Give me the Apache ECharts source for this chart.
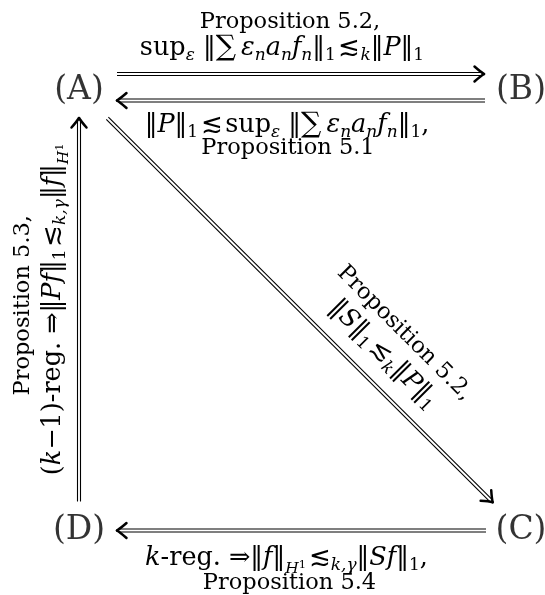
<!DOCTYPE html>
<html><head><meta charset="utf-8">
<script src="https://cdn.jsdelivr.net/npm/echarts@6/dist/echarts.min.js"></script>
<style>html,body{margin:0;padding:0;background:#fff}#c{width:545px;height:595px}</style>
</head><body><div id="c"></div>
<script>
// ---- data ----
const nodeNames = ['(A)', '(B)', '(C)', '(D)'];
const nodeCol = [0, 1, 1, 0];
const nodeRow = [0, 0, 1, 1];
const edgeFrom = [0, 1, 0, 2, 3];
const edgeTo = [1, 0, 2, 3, 0];
const edgeLabelFirst = [
  '{p|Proposition 5.2,}',
  '{r|‖}{i|P}{r|‖}{s1|1}{r|\u200A≲\u200Asup}{s|ε}{r| ‖}{sum|∑}{i|\u2009ε}{s|n}{i|a}{s|n}{i|f}{s|n}{r|‖}{s1|1}{r|,}',
  '{p|Proposition 5.2,}',
  '{i|k}{r|-reg. ⇒‖}{i|f}{r|‖}{sh|H}{sp|1}{r|\u200A≲}{s|k,γ}{r|‖}{i|Sf}{r|‖}{s1|1}{r|,}',
  '{p|Proposition 5.3,}'
];
const edgeLabelSecond = [
  '{r|sup}{s|ε}{r| ‖}{sum|∑}{i|\u2009ε}{s|n}{i|a}{s|n}{i|f}{s|n}{r|‖}{s1|1}{r|\u200A≲}{s|k}{r|‖}{i|P}{r|‖}{s1|1}',
  '{p|Proposition 5.1}',
  '{r|‖}{i|S}{r|‖}{s1|1}{r|\u200A≲}{s|k}{r|‖}{i|P}{r|‖}{s1|1}',
  '{p|Proposition 5.4}',
  '{r|(}{i|k}{r|−1)-reg. ⇒‖}{i|Pf}{r|‖}{s1|1}{r|\u200A≲}{s|k,γ}{r|‖}{i|f}{r|‖}{sh|H}{sp|1}'
];

// ---- layout / style ----
const edgeOffset = [[0, -16], [0, 10.5], [0, 0], [0, 0], [0, 0]];
const edgeGap = [[38, 37], [36, 38], [40, 40], [35, 38], [29, 28]];
const labelOffset = [
  [[-10, -68], [-18, -42]],
  [[-13, 35], [-12, 58]],
  [[104.5, 23], [83.5, 44]],
  [[-13.5, 28], [-10.5, 52.5]],
  [[-56, -5], [-26, -1]]
];
const labelRot = [0, 0, -45, 0, 90];

const F = 'DejaVu Serif';
const M = 25.5, LH = 31;
const RICH = {
  p: {fontFamily: F, fontSize: 22.5, lineHeight: LH, verticalAlign: 'middle', fill: '#000'},
  r: {fontFamily: F, fontSize: M, lineHeight: LH, verticalAlign: 'middle', fill: '#000'},
  i: {fontFamily: F, fontSize: M, fontStyle: 'italic', lineHeight: LH, verticalAlign: 'middle', fill: '#000'},
  s: {fontFamily: F, fontSize: 17, fontStyle: 'italic', lineHeight: 20, verticalAlign: 'top', padding: [14.4, 0, 0, 0], fill: '#000'},
  s1: {fontFamily: F, fontSize: 17, lineHeight: 20, verticalAlign: 'top', padding: [14.4, 0, 0, 0], fill: '#000'},
  sh: {fontFamily: F, fontSize: 15.5, fontStyle: 'italic', lineHeight: 20, verticalAlign: 'top', padding: [18, 0, 0, 0], fill: '#000'},
  sp: {fontFamily: F, fontSize: 11.5, lineHeight: 20, verticalAlign: 'top', padding: [16.5, 0, 0, 0], fill: '#000'},
  sum: {fontFamily: F, fontSize: 28.5, lineHeight: LH, verticalAlign: 'middle', fill: '#000'}
};

const chart = echarts.init(document.getElementById('c'), null, {renderer: 'canvas'});
chart.setOption({
  animation: false,
  backgroundColor: '#fff',
  grid: {left: 79, right: 24, top: 90, bottom: 64.5},
  xAxis: {type: 'value', min: 0, max: 1, show: false},
  yAxis: {type: 'value', min: 0, max: 1, inverse: true, show: false},
  series: [
    {
      type: 'custom',
      silent: true,
      data: edgeFrom.map((f, i) => [nodeCol[f], nodeRow[f], nodeCol[edgeTo[i]], nodeRow[edgeTo[i]], i]),
      encode: {x: [0, 2], y: [1, 3]},
      renderItem(params, api) {
        const i = api.value(4);
        const p0 = api.coord([api.value(0), api.value(1)]);
        const p1 = api.coord([api.value(2), api.value(3)]);
        const dx = p1[0] - p0[0], dy = p1[1] - p0[1];
        const L = Math.hypot(dx, dy);
        const ux = dx / L, uy = dy / L;
        const nx = -uy, ny = ux;
        const off = edgeOffset[i], g = edgeGap[i];
        const sx = p0[0] + ux * g[0] + off[0], sy = p0[1] + uy * g[0] + off[1];
        const tx = p1[0] - ux * g[1] + off[0], ty = p1[1] - uy * g[1] + off[1];
        const children = [];
        const d = 1.5, back = 2.5;
        for (const s of [-1, 1]) {
          children.push({type: 'line', shape: {x1: sx + nx * d * s, y1: sy + ny * d * s, x2: tx - ux * back + nx * d * s, y2: ty - uy * back + ny * d * s},
            style: {stroke: '#000', lineWidth: 1.1}});
        }
        const hb = 9.5, hw = 7.5;
        for (const s of [-1, 1]) {
          const ax = tx - ux * hb + nx * hw * s, ay = ty - uy * hb + ny * hw * s;
          const cx = tx - ux * 3.5 + nx * 2.2 * s, cy = ty - uy * 3.5 + ny * 2.2 * s;
          children.push({type: 'bezierCurve', shape: {x1: ax, y1: ay, x2: tx, y2: ty, cpx1: cx, cpy1: cy},
            style: {stroke: '#000', fill: null, lineWidth: 2.5, lineCap: 'round'}});
        }
        const mx = (p0[0] + p1[0]) / 2, my = (p0[1] + p1[1]) / 2;
        [edgeLabelFirst[i], edgeLabelSecond[i]].forEach((txt, k) => {
          const lo = labelOffset[i][k];
          children.push({type: 'text', x: mx + lo[0], y: my + lo[1], rotation: labelRot[i] * Math.PI / 180,
            style: {text: txt, rich: RICH, align: 'center', verticalAlign: 'middle', fill: '#000', fontFamily: F, fontSize: M}});
        });
        return {type: 'group', children};
      }
    },
    {
      type: 'scatter',
      silent: true,
      symbolSize: 2,
      itemStyle: {color: 'rgba(0,0,0,0)'},
      data: nodeNames.map((n, i) => [nodeCol[i], nodeRow[i], n]),
      label: {show: true, position: 'inside', formatter: p => p.data[2], fontFamily: F, fontSize: 33, color: '#000'}
    }
  ]
});
</script></body></html>
